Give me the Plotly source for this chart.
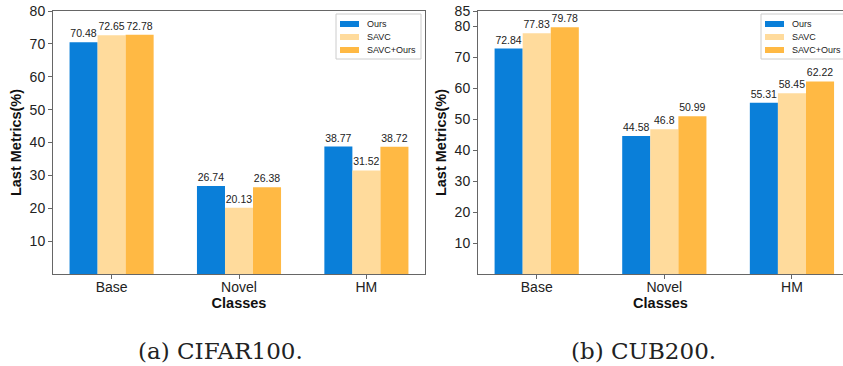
import plotly.graph_objects as go

W, H = 843, 366

categories = ["Base", "Novel", "HM"]
series_names = ["Ours", "SAVC", "SAVC+Ours"]
colors = ["#0a7fd9", "#ffdb9c", "#ffb944"]

cifar_ours = [70.48, 26.74, 38.77]
cifar_savc = [72.65, 20.13, 31.52]
cifar_savc_ours = [72.78, 26.38, 38.72]

cub_ours = [72.84, 44.58, 55.31]
cub_savc = [77.83, 46.8, 58.45]
cub_savc_ours = [79.78, 50.99, 62.22]

cifar_ticks = [10, 20, 30, 40, 50, 60, 70, 80]
cub_ticks = [10, 20, 30, 40, 50, 60, 70, 80, 85]

captions = ["(a) CIFAR100.", "(b) CUB200."]

fig = go.Figure()

bw = 0.22
for panel, (data, xa, ya) in enumerate([
    ([cifar_ours, cifar_savc, cifar_savc_ours], "x", "y"),
    ([cub_ours, cub_savc, cub_savc_ours], "x2", "y2"),
]):
    for i, (name, vals) in enumerate(zip(series_names, data)):
        fig.add_trace(go.Bar(
            x=categories, y=vals, name=name,
            marker=dict(color=colors[i], line=dict(width=0)),
            width=bw, offset=-1.5 * bw + i * bw,
            text=[str(v) for v in vals], textposition="outside",
            textfont=dict(size=10.5, color="#222", family="Liberation Sans"),
            cliponaxis=False, showlegend=False,
            xaxis=xa, yaxis=ya,
        ))

axis_line = "#666666"
tickfont = dict(size=14, color="#222", family="Liberation Sans")
titlefont = dict(size=14.5, color="#111", family="Liberation Sans", weight="bold")

ydom = [(H - 274) / H, (H - 11) / H]

common_x = dict(type="category", showline=True, linecolor=axis_line, linewidth=1,
                ticks="outside", ticklen=4, tickcolor=axis_line, tickfont=tickfont,
                showgrid=False, zeroline=False, automargin=False, ticklabelstandoff=-4,
                title=dict(text="<b>Classes</b>", font=titlefont, standoff=2))
common_y = dict(showline=True, linecolor=axis_line, linewidth=1,
                ticks="outside", ticklen=4, tickcolor=axis_line, tickfont=tickfont,
                showgrid=False, zeroline=False, automargin=False,
                title=dict(text="<b>Last Metrics(%)</b>", font=titlefont, standoff=4))

# Custom legends (matplotlib-style compact boxes)
shapes = []
annotations = []
for box_left in (336, 761):
    shapes.append(dict(type="rect", xref="paper", yref="paper",
                       x0=box_left / W, x1=(box_left + 85) / W,
                       y0=1 - 59 / H, y1=1 - 14 / H,
                       line=dict(color="#cccccc", width=1), fillcolor="white", layer="above"))
    for i, name in enumerate(series_names):
        yc = 24 + 13 * i
        shapes.append(dict(type="rect", xref="paper", yref="paper",
                           x0=(box_left + 4) / W, x1=(box_left + 23) / W,
                           y0=1 - (yc + 3) / H, y1=1 - (yc - 3) / H,
                           line=dict(width=0), fillcolor=colors[i], layer="above"))
        annotations.append(dict(text=name, x=(box_left + 30) / W, y=1 - yc / H,
                                xref="paper", yref="paper", showarrow=False,
                                xanchor="left", yanchor="middle", borderpad=0,
                                font=dict(size=9, color="#222", family="Liberation Sans")))

for txt, cx in zip(captions, (220, 643)):
    annotations.append(dict(text=txt, x=cx / W, y=1 - 351 / H, xref="paper", yref="paper",
                            showarrow=False, xanchor="center", yanchor="middle",
                            font=dict(size=23, color="#222", family="DejaVu Serif")))

fig.update_layout(
    width=W, height=H,
    margin=dict(l=0, r=0, t=0, b=0, autoexpand=False),
    paper_bgcolor="white", plot_bgcolor="white",
    showlegend=False,
    xaxis=dict(common_x, domain=[53 / W, 425 / W], range=[-0.46, 2.46], mirror=True, anchor="y"),
    yaxis=dict(common_y, domain=ydom, range=[0, 80], tickvals=cifar_ticks, mirror=True, anchor="x"),
    xaxis2=dict(common_x, domain=[478 / W, 1.0], range=[-0.46, 2.40], mirror=True, anchor="y2"),
    yaxis2=dict(common_y, domain=ydom, range=[0, 85], tickvals=cub_ticks, mirror=False, anchor="x2"),
    shapes=shapes,
    annotations=annotations,
)

fig.write_html("out.html", config={"displayModeBar": False},
               post_script="document.body.style.margin='0';")
